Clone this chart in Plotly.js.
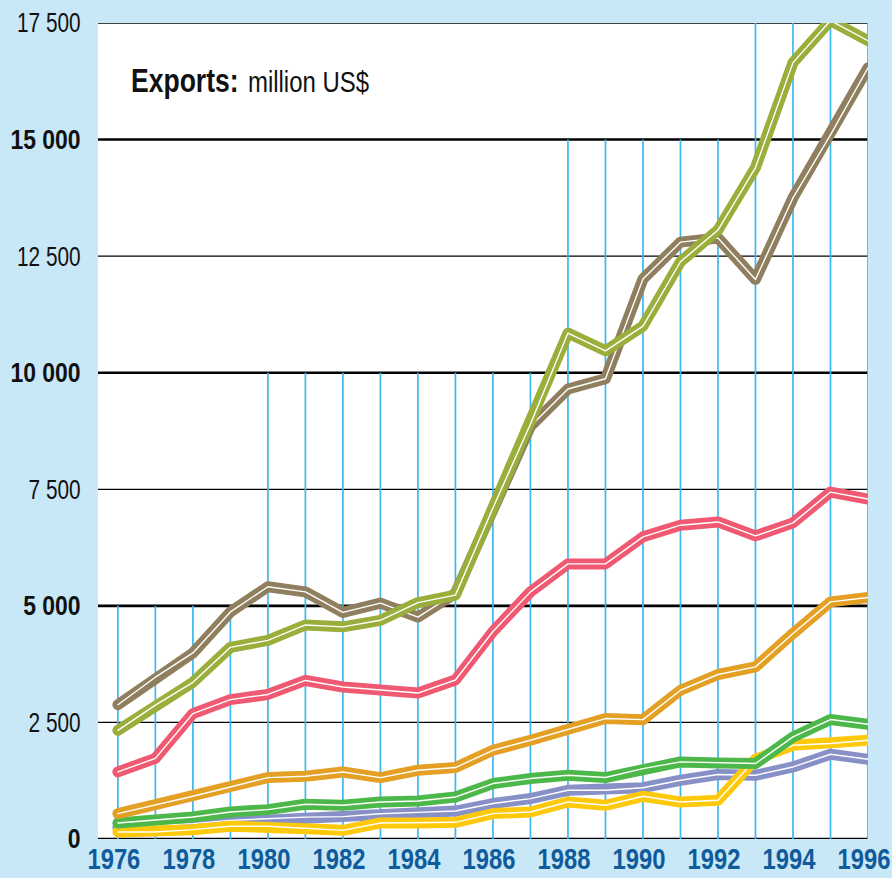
<!DOCTYPE html>
<html>
<head>
<meta charset="utf-8">
<script src="https://cdn.plot.ly/plotly-3.0.1.min.js"></script>
<style>
  html, body { margin: 0; padding: 0; background: #c8e8f8; }
  #chart { width: 892px; height: 878px; }
  .scatterlayer path.js-line { stroke-linecap: round; stroke-linejoin: round; }
</style>
</head>
<body>
<div id="chart"></div>
<script>
// ---- data ----
const years = [1976,1977,1978,1979,1980,1981,1982,1983,1984,1985,1986,1987,1988,1989,1990,1991,1992,1993,1994,1995,1996];

const brown    = [2880,3470,3990,4870,5410,5300,4860,5060,4760,5270,7000,8850,9650,9870,12010,12800,12890,12000,13750,15100,16540];
const olive    = [2330,2870,3360,4110,4260,4590,4550,4690,5070,5230,7100,8900,10850,10470,11000,12380,13060,14400,16650,17550,17120];
const pink     = [1438,1730,2690,2990,3100,3400,3260,3190,3130,3410,4450,5300,5900,5900,6480,6730,6800,6500,6780,7440,7290];
const orange   = [545,723,916,1116,1317,1345,1438,1317,1474,1532,1903,2118,2347,2583,2560,3190,3528,3691,4408,5086,5180];
const green    = [343,401,472,580,630,745,723,794,816,901,1189,1296,1367,1318,1510,1653,1631,1618,2189,2562,2461];
const lavender = [250,290,330,400,440,470,480,540,570,600,760,867,1045,1045,1100,1260,1382,1367,1545,1818,1710];
const yellow   = [150,150,200,272,272,222,186,343,343,358,545,580,794,723,916,794,830,1710,2011,2047,2118];

const xTickVals = [1976,1978,1980,1982,1984,1986,1988,1990,1992,1994,1996];
const xTickText = ['1976','1978','1980','1982','1984','1986','1988','1990','1992','1994','1996'];
const yTickVals = [0,2500,5000,7500,10000,12500,15000,17500];
const yTickText = ['<b>0</b>','2 500','<b>5 000</b>','7 500','<b>10 000</b>','12 500','<b>15 000</b>','17 500'];

const titleBold = 'Exports:';
const titleRest = 'million US$';

// ---- styles ----
const FONT = '"Liberation Sans", Arial, sans-serif';
const series = [
  {y: lavender, c: '#8890c8'},
  {y: yellow,   c: '#fec80b'},
  {y: green,    c: '#4db84a'},
  {y: orange,   c: '#e4a024'},
  {y: pink,     c: '#ef5a72'},
  {y: brown,    c: '#8f7f5f'},
  {y: olive,    c: '#9aae3c'}
];

const traces = [];
series.forEach(s => {
  traces.push({x: years, y: s.y, mode: 'lines', line: {color: s.c, width: 11},
               cliponaxis: false, hoverinfo: 'skip', showlegend: false});
  traces.push({x: years, y: s.y, mode: 'lines', line: {color: '#ffffff', width: 1.4},
               cliponaxis: false, hoverinfo: 'skip', showlegend: false});
});

// vertical gridline heights (styling of the background grid)
function vTop(yr) {
  if (yr <= 1979) return 5000;
  if (yr <= 1987) return 10000;
  if (yr <= 1992) return 15000;
  return 17500;
}
const shapes = [];
years.forEach(yr => {
  shapes.push({type: 'line', xref: 'x', yref: 'y', x0: yr, x1: yr, y0: 0, y1: vTop(yr),
               layer: 'below', line: {color: '#3cb8ee', width: 1.7}});
});
yTickVals.forEach(v => {
  const thick = (v % 5000 === 0);
  shapes.push({type: 'line', xref: 'paper', yref: 'y', x0: 0, x1: 1, y0: v, y1: v,
               layer: 'below', line: {color: '#000000', width: thick ? 2.6 : 1.3}});
});

const layout = {
  width: 892, height: 878,
  margin: {l: 98, r: 24, t: 23, b: 39, pad: 0},
  paper_bgcolor: '#c8e8f8',
  plot_bgcolor: '#ffffff',
  font: {family: FONT, color: '#111111'},
  showlegend: false,
  xaxis: {
    range: [1975.47, 1996], tickvals: xTickVals, ticktext: xTickText,
    showgrid: false, zeroline: false, showline: false,
    ticks: '', ticklabelshift: -4, ticklabeloverflow: 'allow',
    tickfont: {family: FONT, size: 29, color: '#0f5b9c', weight: 'bold'},
    fixedrange: true
  },
  yaxis: {
    range: [0, 17500], tickvals: yTickVals, ticktext: yTickText,
    showgrid: false, zeroline: false, showline: false,
    ticks: 'outside', ticklen: 11, tickcolor: 'rgba(0,0,0,0)', ticklabeloverflow: 'allow',
    tickfont: {family: FONT, size: 27, color: '#111111'},
    fixedrange: true
  },
  shapes: shapes,
  annotations: [
    {
      xref: 'paper', yref: 'paper', x: 0.040, y: 0.930, xanchor: 'left', yanchor: 'middle',
      showarrow: false, align: 'left', width: 110, text: '<b>' + titleBold + '</b>',
      font: {family: FONT, size: 34, color: '#111111'}
    },
    {
      xref: 'paper', yref: 'paper', x: 0.192, y: 0.928, xanchor: 'left', yanchor: 'middle',
      showarrow: false, align: 'left', width: 124, text: titleRest,
      font: {family: FONT, size: 29, color: '#111111'}
    }
  ]
};

// condense the text horizontally (the reference uses a condensed face)
function condense(sel, fnFactor) {
  document.querySelectorAll(sel).forEach((el, i) => {
    const w = el.getComputedTextLength();
    if (!w) return;
    el.setAttribute('textLength', (w * fnFactor(el, i)).toFixed(2));
    el.setAttribute('lengthAdjust', 'spacingAndGlyphs');
  });
}

Plotly.newPlot('chart', traces, layout, {displayModeBar: false, staticPlot: true}).then(() => {
  condense('.xtick text', () => 0.82);
  condense('.ytick text', el => (el.querySelector('tspan[style*="bold"]') || /<b>/.test(el.getAttribute('data-unformatted') || '')) ? 0.85 : 0.77);
  condense('.annotation-text', (el, i) => i === 0 ? 0.78 : 0.825);
});
</script>
</body>
</html>
